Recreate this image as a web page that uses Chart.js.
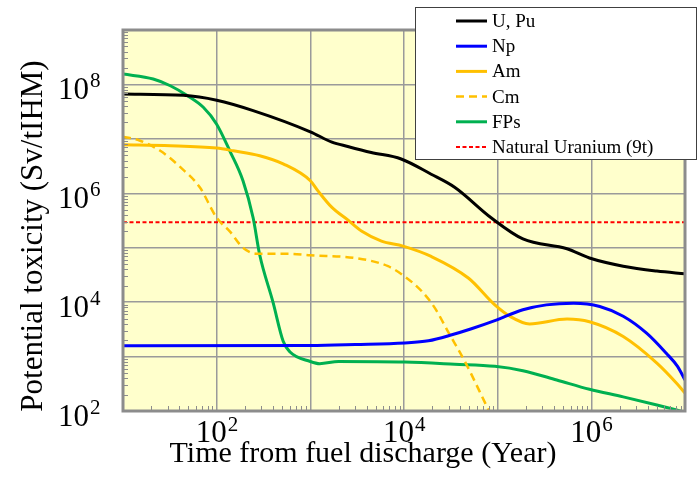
<!DOCTYPE html>
<html><head><meta charset="utf-8">
<script src="https://cdn.jsdelivr.net/npm/chart.js@4.4.0/dist/chart.umd.min.js"></script>
<style>html,body{margin:0;padding:0;background:#fff;}</style>
</head><body>
<canvas id="c" width="698" height="477"></canvas>
<script>
// ---- data ----
const uPuYears  = [10, 44, 100, 245, 1000, 1700, 2510, 4470, 9330, 19500, 34700, 85100, 186000, 550000, 955000, 2.19e6, 5.01e6, 1e7];
const uPuValues = [6.68e7, 6.31e7, 5.13e7, 3.31e7, 1.35e7, 8.71e6, 7.24e6, 5.62e6, 4.27e6, 2.24e6, 1.29e6, 3.55e5, 1.45e5, 9.55e4, 6.46e4, 4.57e4, 3.72e4, 3.31e4];

const npYears  = [10, 1000, 3020, 10200, 18200, 32400, 52500, 93300, 186000, 331000, 646000, 1.23e6, 2.19e6, 3.89e6, 6.31e6, 8.32e6, 1e7];
const npValues = [1580, 1590, 1660, 1780, 1950, 2510, 3240, 4570, 7240, 8910, 9550, 8320, 5500, 2690, 1150, 661, 372];

const amYears  = [10, 32, 100, 151, 288, 513, 1000, 1200, 1700, 2510, 3550, 5750, 9770, 19500, 49000, 93300, 135000, 219000, 550000, 955000, 2.19e6, 5.01e6, 8.13e6, 1e7];
const amValues = [7.76e6, 7.50e6, 6.76e6, 6.03e6, 4.90e6, 3.47e6, 1.70e6, 1.12e6, 5.50e5, 3.24e5, 2.00e5, 1.32e5, 1.07e5, 6.92e4, 2.75e4, 8.91e3, 5.50e3, 3.98e3, 4.90e3, 4.37e3, 2.34e3, 759, 324, 214];

const cmYears  = [10, 15, 25, 41, 66, 100, 138, 191, 269, 562, 1000, 3020, 6760, 10200, 15500, 21400, 29500, 44700, 61700, 79400, 90000];
const cmValues = [1.10e7, 9.33e6, 6.03e6, 3.02e6, 1.29e6, 3.55e5, 2.00e5, 1.00e5, 7.76e4, 7.76e4, 7.24e4, 6.46e4, 4.57e4, 2.95e4, 1.58e4, 7.76e3, 2.88e3, 813, 263, 105, 63];

const fpYears  = [10, 21, 32, 48, 72, 100, 138, 191, 245, 288, 398, 513, 603, 1000, 1260, 2000, 10200, 34700, 93300, 186000, 427000, 955000, 2.19e6, 5.01e6, 1e7];
const fpValues = [1.55e8, 1.26e8, 9.46e7, 6.31e7, 3.80e7, 1.86e7, 6.03e6, 1.70e6, 3.55e5, 7.41e4, 1.02e4, 1.91e3, 1.23e3, 813, 741, 813, 794, 724, 661, 550, 372, 251, 182, 129, 95];

const natUYears  = [10, 1e7];
const natUValues = [2.94e5, 2.94e5];

const seriesLabels = ['U, Pu', 'Np', 'Am', 'Cm', 'FPs', 'Natural Uranium (9t)'];
const xTickExponents = [2, 4, 6];
const yTickExponents = [2, 4, 6, 8];
const xAxisTitle = 'Time from fuel discharge (Year)';
const yAxisTitle = 'Potential toxicity (Sv/tIHM)';

// ---- chart ----
const SERIF = '"Liberation Serif", "Times New Roman", Times, serif';
const pts = (xs, ys) => xs.map((x, i) => ({x, y: ys[i]}));

function ds(label, xs, ys, color, width, dash) {
  return {label, data: pts(xs, ys), borderColor: color, backgroundColor: color,
    borderWidth: width, borderDash: dash || [], pointRadius: 0, fill: false,
    cubicInterpolationMode: 'monotone', clip: 0};
}

const decor = {
  id: 'decor',
  beforeDraw(chart) {
    const {ctx, chartArea: a} = chart;
    ctx.save();
    ctx.fillStyle = '#ffffff';
    ctx.fillRect(0, 0, chart.width, chart.height);
    ctx.fillStyle = '#FFFFCC';
    ctx.fillRect(a.left, a.top, a.right - a.left, a.bottom - a.top);
    ctx.restore();
  },
  afterDatasetsDraw(chart) {
    const {ctx, chartArea: a, scales: {x, y}} = chart;
    ctx.save();
    ctx.strokeStyle = '#8c8c8c';
    ctx.lineWidth = 1;
    for (let e = 1; e < 7; e++) for (let m = 2; m < 10; m++) {
      const px = Math.round(x.getPixelForValue(m * Math.pow(10, e))) + 0.5;
      ctx.beginPath(); ctx.moveTo(px, a.bottom); ctx.lineTo(px, a.bottom - 5); ctx.stroke();
    }
    for (let e = 2; e < 9; e++) for (let m = 2; m < 10; m++) {
      const py = Math.round(y.getPixelForValue(m * Math.pow(10, e))) + 0.5;
      ctx.beginPath(); ctx.moveTo(a.left, py); ctx.lineTo(a.left + 5, py); ctx.stroke();
    }
    ctx.lineWidth = 3;
    ctx.strokeStyle = '#8c8c8c';
    ctx.strokeRect(a.left, a.top, a.right - a.left, a.bottom - a.top);
    ctx.restore();
  },
  afterDraw(chart) {
    const {ctx, chartArea: a, scales: {x, y}} = chart;
    ctx.save();
    ctx.fillStyle = '#000';
    ctx.textBaseline = 'alphabetic';
    // y tick labels
    yTickExponents.forEach(e => {
      const py = y.getPixelForValue(Math.pow(10, e)) + 4;
      ctx.font = '31px ' + SERIF; ctx.textAlign = 'right';
      ctx.fillText('10', 89, py + 11);
      ctx.font = '21px ' + SERIF; ctx.textAlign = 'left';
      ctx.fillText(String(e), 90, py - 1);
    });
    // x tick labels
    xTickExponents.forEach(e => {
      const px = x.getPixelForValue(Math.pow(10, e));
      ctx.font = '31px ' + SERIF; ctx.textAlign = 'right';
      ctx.fillText('10', px + 10, 442);
      ctx.font = '21px ' + SERIF; ctx.textAlign = 'left';
      ctx.fillText(String(e), px + 11, 431);
    });
    // axis titles
    ctx.font = '30px ' + SERIF; ctx.textAlign = 'center';
    ctx.fillText(xAxisTitle, a.left + 240, 462);
    ctx.save();
    ctx.translate(42, 236);
    ctx.rotate(-Math.PI / 2);
    ctx.font = '31px ' + SERIF;
    ctx.fillText(yAxisTitle, 0, 0);
    ctx.restore();
    // legend
    const lx = 415.5, ly = 7.5, lw = 281, lh = 152;
    ctx.fillStyle = '#fff';
    ctx.fillRect(lx, ly, lw, lh);
    ctx.strokeStyle = '#404040'; ctx.lineWidth = 1;
    ctx.strokeRect(lx, ly, lw, lh);
    chart.data.datasets.forEach((d, i) => {
      const cy = 21 + i * 25.2;
      ctx.strokeStyle = d.borderColor;
      ctx.lineWidth = d.borderWidth;
      ctx.setLineDash(d.borderDash);
      ctx.beginPath(); ctx.moveTo(456, cy); ctx.lineTo(487, cy); ctx.stroke();
      ctx.setLineDash([]);
      ctx.fillStyle = '#000';
      ctx.font = '19px ' + SERIF; ctx.textAlign = 'left';
      ctx.fillText(d.label, 492, cy + 6);
    });
    ctx.restore();
  }
};

const decadeTicks = (lo, hi) => { const t = []; for (let e = lo; e <= hi; e++) t.push({value: Math.pow(10, e)}); return t; };

new Chart(document.getElementById('c'), {
  type: 'line',
  data: {
    datasets: [
      ds(seriesLabels[0], uPuYears, uPuValues, '#000000', 3),
      ds(seriesLabels[1], npYears, npValues, '#0000FF', 3),
      ds(seriesLabels[2], amYears, amValues, '#FFC000', 3),
      ds(seriesLabels[3], cmYears, cmValues, '#FFC000', 2.5, [8, 5]),
      ds(seriesLabels[4], fpYears, fpValues, '#00B050', 3),
      ds(seriesLabels[5], natUYears, natUValues, '#FF0000', 2, [4, 2.5])
    ]
  },
  options: {
    responsive: false,
    animation: false,
    devicePixelRatio: 1,
    layout: {padding: {left: 123, right: 13, top: 30, bottom: 66}},
    plugins: {legend: {display: false}, tooltip: {enabled: false}},
    scales: {
      x: {type: 'logarithmic', min: 10, max: 1e7,
        afterBuildTicks: s => { s.ticks = decadeTicks(1, 7); },
        ticks: {display: false},
        grid: {color: '#9a9a9a', lineWidth: 1.5, drawTicks: false},
        border: {display: false}, title: {display: false}},
      y: {type: 'logarithmic', min: 100, max: 1e9,
        afterBuildTicks: s => { s.ticks = decadeTicks(2, 9); },
        ticks: {display: false},
        grid: {color: '#9a9a9a', lineWidth: 1.5, drawTicks: false},
        border: {display: false}, title: {display: false}}
    }
  },
  plugins: [decor]
});
</script>
</body></html>
